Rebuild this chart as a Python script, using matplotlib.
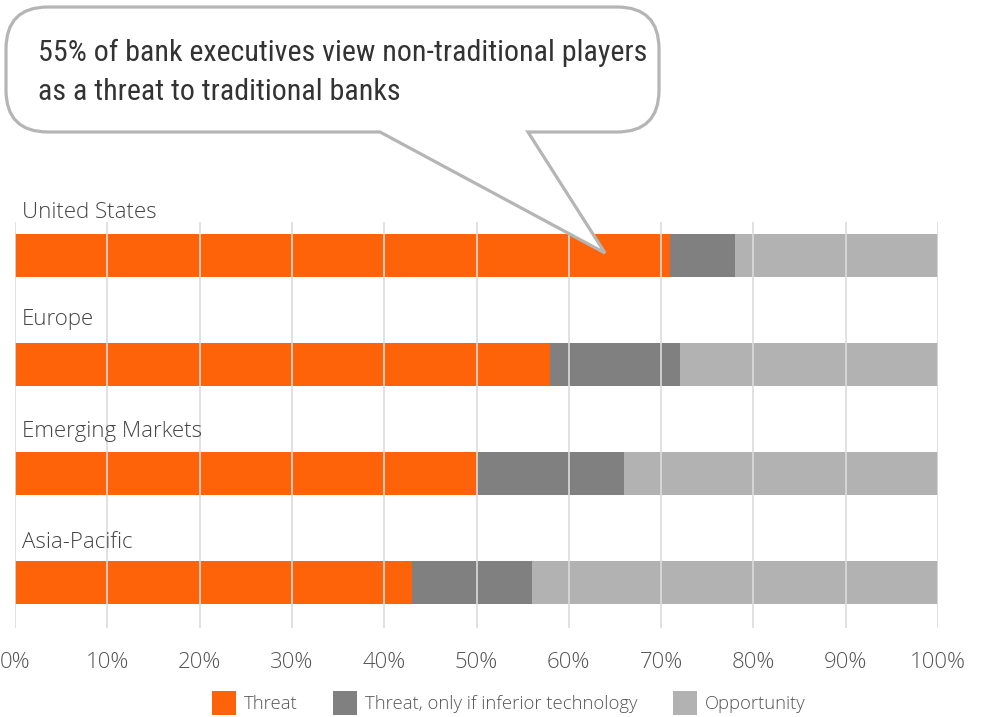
import matplotlib.pyplot as plt
import matplotlib.transforms as mtransforms
from matplotlib import font_manager
from matplotlib.path import Path
from matplotlib.patches import PathPatch, Patch

regions = ["United States", "Europe", "Emerging Markets", "Asia-Pacific"]
threat = [71, 58, 50, 43]
threat_inferior = [7, 14, 16, 13]
opportunity = [22, 28, 34, 44]

series_names = ["Threat", "Threat, only if inferior technology", "Opportunity"]
colors = ["#ff6309", "#808080", "#b2b2b2"]

callout = "55% of bank executives view non-traditional players\nas a threat to traditional banks"

# a narrow face for the callout if one exists, else plain Roboto a bit smaller
installed = {f.name for f in font_manager.fontManager.ttflist}
narrow = [n for n in ["Roboto Condensed", "Liberation Sans Narrow", "Open Sans Condensed"]
          if n in installed]
if narrow:
    callout_font, callout_size = [narrow[0], "DejaVu Sans"], 21.6
else:
    callout_font, callout_size = ["Roboto", "DejaVu Sans"], 19.5

open_weights = {f.weight for f in font_manager.fontManager.ttflist if f.name == "Open Sans"}
light = "light" if any(w in (300, "light") for w in open_weights) else "normal"
body_font = ["Open Sans", "DejaVu Sans"]

W, H = 985, 717
fig = plt.figure(figsize=(W / 100, H / 100), dpi=100)

# axes placed in pixel terms: x 15..938, y 222..628
ax = fig.add_axes([15 / W, 1 - 628 / H, (938 - 15) / W, (628 - 222) / H])

ys = list(range(len(regions)))
left = [0] * len(regions)
for vals, name, c in zip([threat, threat_inferior, opportunity], series_names, colors):
    ax.barh(ys, vals, left=left, height=0.394, color=c, label=name, zorder=1)
    left = [a + b for a, b in zip(left, vals)]

ax.set_xlim(0, 100)
ax.set_ylim(3.417, -0.307)
ax.set_xticks(range(0, 101, 10))
ax.set_xticklabels([f"{t}%" for t in range(0, 101, 10)])
ax.set_yticks([])
ax.grid(axis="x", color="#dcdcdc", linewidth=1.2, zorder=3)
ax.set_axisbelow(False)
for s in ax.spines.values():
    s.set_visible(False)
ax.tick_params(axis="x", length=0, pad=17, labelsize=16, labelcolor="#555555")
for lab in ax.get_xticklabels():
    lab.set_family(body_font)
    lab.set_weight(light)

offsets = [0.39, 0.41, 0.385, 0.37]
for i, name in enumerate(regions):
    ax.text(0.75, i - offsets[i], name, ha="left", va="center", fontsize=16,
            color="#444444", family=body_font, weight=light, clip_on=False)

# speech bubble drawn in pixel coordinates (origin top-left)
px = mtransforms.Affine2D().scale(1 / W, -1 / H).translate(0, 1) + fig.transFigure
x0, x1, y0, y1, r = 6, 659, 7, 132, 42
verts = [(x0 + r, y0), (x1 - r, y0), (x1, y0), (x1, y0 + r), (x1, y1 - r),
         (x1, y1), (x1 - r, y1), (528, y1), (605, 253), (380, y1),
         (x0 + r, y1), (x0, y1), (x0, y1 - r), (x0, y0 + r), (x0, y0), (x0 + r, y0)]
codes = [Path.MOVETO, Path.LINETO, Path.CURVE3, Path.CURVE3, Path.LINETO,
         Path.CURVE3, Path.CURVE3, Path.LINETO, Path.LINETO, Path.LINETO,
         Path.LINETO, Path.CURVE3, Path.CURVE3, Path.LINETO, Path.CURVE3, Path.CURVE3]
bubble = PathPatch(Path(verts, codes), facecolor="white", edgecolor="#b5b5b5",
                   linewidth=2.3, transform=px, zorder=10)
fig.add_artist(bubble)
fig.text(38 / W, 1 - 72 / H, callout, ha="left", va="center", fontsize=callout_size,
         color="#333333", linespacing=1.5, family=callout_font, zorder=11)

handles = [Patch(facecolor=c, edgecolor="none") for c in colors]
leg = fig.legend(handles, series_names, loc="center", bbox_to_anchor=(509 / W, 1 - 703 / H),
                 ncol=3, frameon=False, handlelength=1.3, handleheight=1.7,
                 handletextpad=0.45, columnspacing=1.9,
                 prop={"family": body_font, "size": 13.3, "weight": light})
for t in leg.get_texts():
    t.set_color("#555555")

fig.savefig("out.png", dpi=100)
